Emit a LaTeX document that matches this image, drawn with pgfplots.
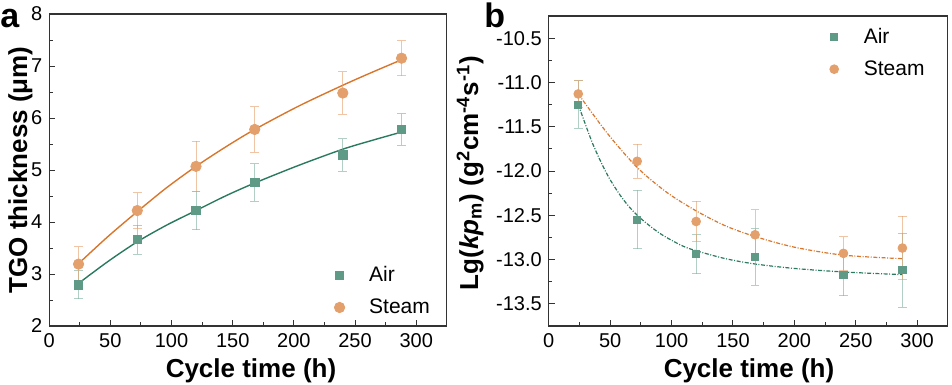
\documentclass[border=0pt]{standalone}
\usepackage{fontspec}
\setmainfont{Liberation Sans}
\usepackage{pgfplots}
\pgfplotsset{compat=1.18}
\definecolor{airM}{HTML}{5E9A86}
\definecolor{airL}{HTML}{2A7A60}
\definecolor{stM}{HTML}{E3A06C}
\definecolor{stL}{HTML}{D9762C}
\pgfplotsset{
 mystyle/.style={
  scale only axis,
  axis line style={line width=0.6pt, color=black!80},
  tick align=inside, xtick pos=bottom, ytick pos=left,
  major tick length=3pt, minor tick length=1.8pt,
  every tick/.style={black!80, line width=0.5pt},
  tick label style={font=\fontsize{10}{12}\selectfont},
  /pgf/number format/assume math mode=true,
  xmin=0, xmax=325, xtick={0,50,...,300}, minor x tick num=1,
  minor y tick num=1,
  legend cell align=left,
  legend style={draw=none, fill=none, font=\fontsize{10.5}{12}\selectfont, inner sep=0pt, row sep=3pt},
  legend image code/.code={\path[draw=none,fill=none] (0cm,-0.1cm) rectangle (0.55cm,0.1cm); \draw[##1] plot coordinates {(0.1cm,0cm)};},
 },
 airpts/.style={only marks, mark=square*, mark size=#1, color=airM,
   error bars/.cd, y dir=both, y explicit,
   error bar style={color=airL!60, opacity=0.6, line width=0.5pt},
   error mark options={rotate=90, mark size=2.2pt, line width=0.5pt, color=airL!60, opacity=0.6}},
 stpts/.style={only marks, mark=*, mark size=#1, color=stM,
   error bars/.cd, y dir=both, y explicit,
   error bar style={color=stL!70, opacity=0.6, line width=0.5pt},
   error mark options={rotate=90, mark size=2.2pt, line width=0.5pt, color=stL!70, opacity=0.6}},
}
\begin{document}
\begin{tikzpicture}
\useasboundingbox (0,0) rectangle (476pt,-192.5pt);
\node[anchor=base west, inner sep=0pt, font=\fontsize{17}{20}\selectfont\bfseries] at (0pt,-14pt) {a};
\node[anchor=base west, inner sep=0pt, font=\fontsize{17}{20}\selectfont\bfseries] at (242pt,-14pt) {b};
% ---------- panel a ----------
\begin{axis}[mystyle, at={(24.6pt,-163pt)}, anchor=south west,
  width=198.8pt, height=156pt, ymin=2, ymax=8, ytick={2,...,8},
  legend style={at={(rel axis cs:0.715,0.205)}, anchor=north west}]
\addplot[airL, line width=0.7pt, smooth, forget plot] coordinates {
 (24,2.82) (48,3.24) (72,3.62) (96,3.94) (120,4.22) (144,4.50) (168,4.75)
 (204,5.09) (240,5.40) (264,5.57) (288,5.73)};
\addplot[stL, line width=0.7pt, smooth, forget plot] coordinates {
 (24,3.20) (48,3.72) (72,4.20) (96,4.66) (120,5.07) (144,5.44) (168,5.78)
 (204,6.23) (240,6.63) (264,6.88) (288,7.12)};
\addplot[airpts=2.1pt] coordinates {
 (24,2.79) +- (0,0.27)
 (72,3.66) +- (0,0.28)
 (120,4.22) +- (0,0.37)
 (168,4.76) +- (0,0.36)
 (240,5.29) +- (0,0.31)
 (288,5.78) +- (0,0.30)};
\addlegendentry{Air}
\addplot[stpts=2.6pt] coordinates {
 (24,3.19) +- (0,0.33)
 (72,4.22) +- (0,0.34)
 (120,5.07) +- (0,0.48)
 (168,5.78) +- (0,0.44)
 (240,6.48) +- (0,0.41)
 (288,7.15) +- (0,0.34)};
\addlegendentry{Steam}
\end{axis}
% ---------- panel b ----------
\begin{axis}[mystyle, at={(274.4pt,-163pt)}, anchor=south west,
  width=199.5pt, height=155pt, ymin=-13.75, ymax=-10.25,
  ytick={-13.5,-13,-12.5,-12,-11.5,-11,-10.5},
  yticklabels={-13.5,-13.0,-12.5,-12.0,-11.5,-11.0,-10.5},
  legend style={at={(rel axis cs:0.70,0.975)}, anchor=north west}]
\addplot[airL, line width=0.6pt, smooth, dash pattern=on 2pt off 0.8pt on 0.5pt off 0.8pt, forget plot] coordinates {
 (24,-11.25) (36,-11.70) (48,-12.05) (60,-12.31) (72,-12.50) (90,-12.70) (108,-12.84)
 (120,-12.90) (144,-12.99) (168,-13.05) (200,-13.10) (240,-13.14) (288,-13.17)};
\addplot[stL, line width=0.6pt, smooth, dash pattern=on 2pt off 0.8pt on 0.5pt off 0.8pt, forget plot] coordinates {
 (24,-11.13) (48,-11.58) (72,-11.96) (96,-12.24) (120,-12.45) (144,-12.62) (168,-12.74)
 (200,-12.86) (240,-12.95) (288,-12.99)};
\addplot[airpts=1.8pt] coordinates {
 (24,-11.25) +- (0,0.27)
 (72,-12.55) +- (0,0.33)
 (120,-12.94) +- (0,0.22)
 (168,-12.97) +- (0,0.32)
 (240,-13.17) +- (0,0.24)
 (288,-13.12) +- (0,0.42)};
\addlegendentry{Air}
\addplot[stpts=2.2pt] coordinates {
 (24,-11.13) +- (0,0.15)
 (72,-11.89) +- (0,0.19)
 (120,-12.57) +- (0,0.23)
 (168,-12.72) +- (0,0.28)
 (240,-12.93) +- (0,0.19)
 (288,-12.87) +- (0,0.36)};
\addlegendentry{Steam}
\end{axis}
% ---------- axis labels ----------
\node[anchor=base, inner sep=0pt, font=\fontsize{13}{15}\selectfont\bfseries] at (125.5pt,-188.7pt) {Cycle time (h)};
\node[anchor=base, inner sep=0pt, font=\fontsize{13}{15}\selectfont\bfseries] at (374.5pt,-188.7pt) {Cycle time (h)};
\node[rotate=90, anchor=base, inner sep=0pt, font=\fontsize{13}{15}\selectfont\bfseries] at (13.5pt,-85pt) {TGO thickness (μm)};
\node[rotate=90, anchor=base, inner sep=0pt, font=\fontsize{13}{15}\selectfont\bfseries] at (239pt,-86.5pt) {Lg(\textit{kp}\textsubscript{m}) (g\textsuperscript{2}cm\textsuperscript{-4}s\textsuperscript{-1})};
\end{tikzpicture}
\end{document}
